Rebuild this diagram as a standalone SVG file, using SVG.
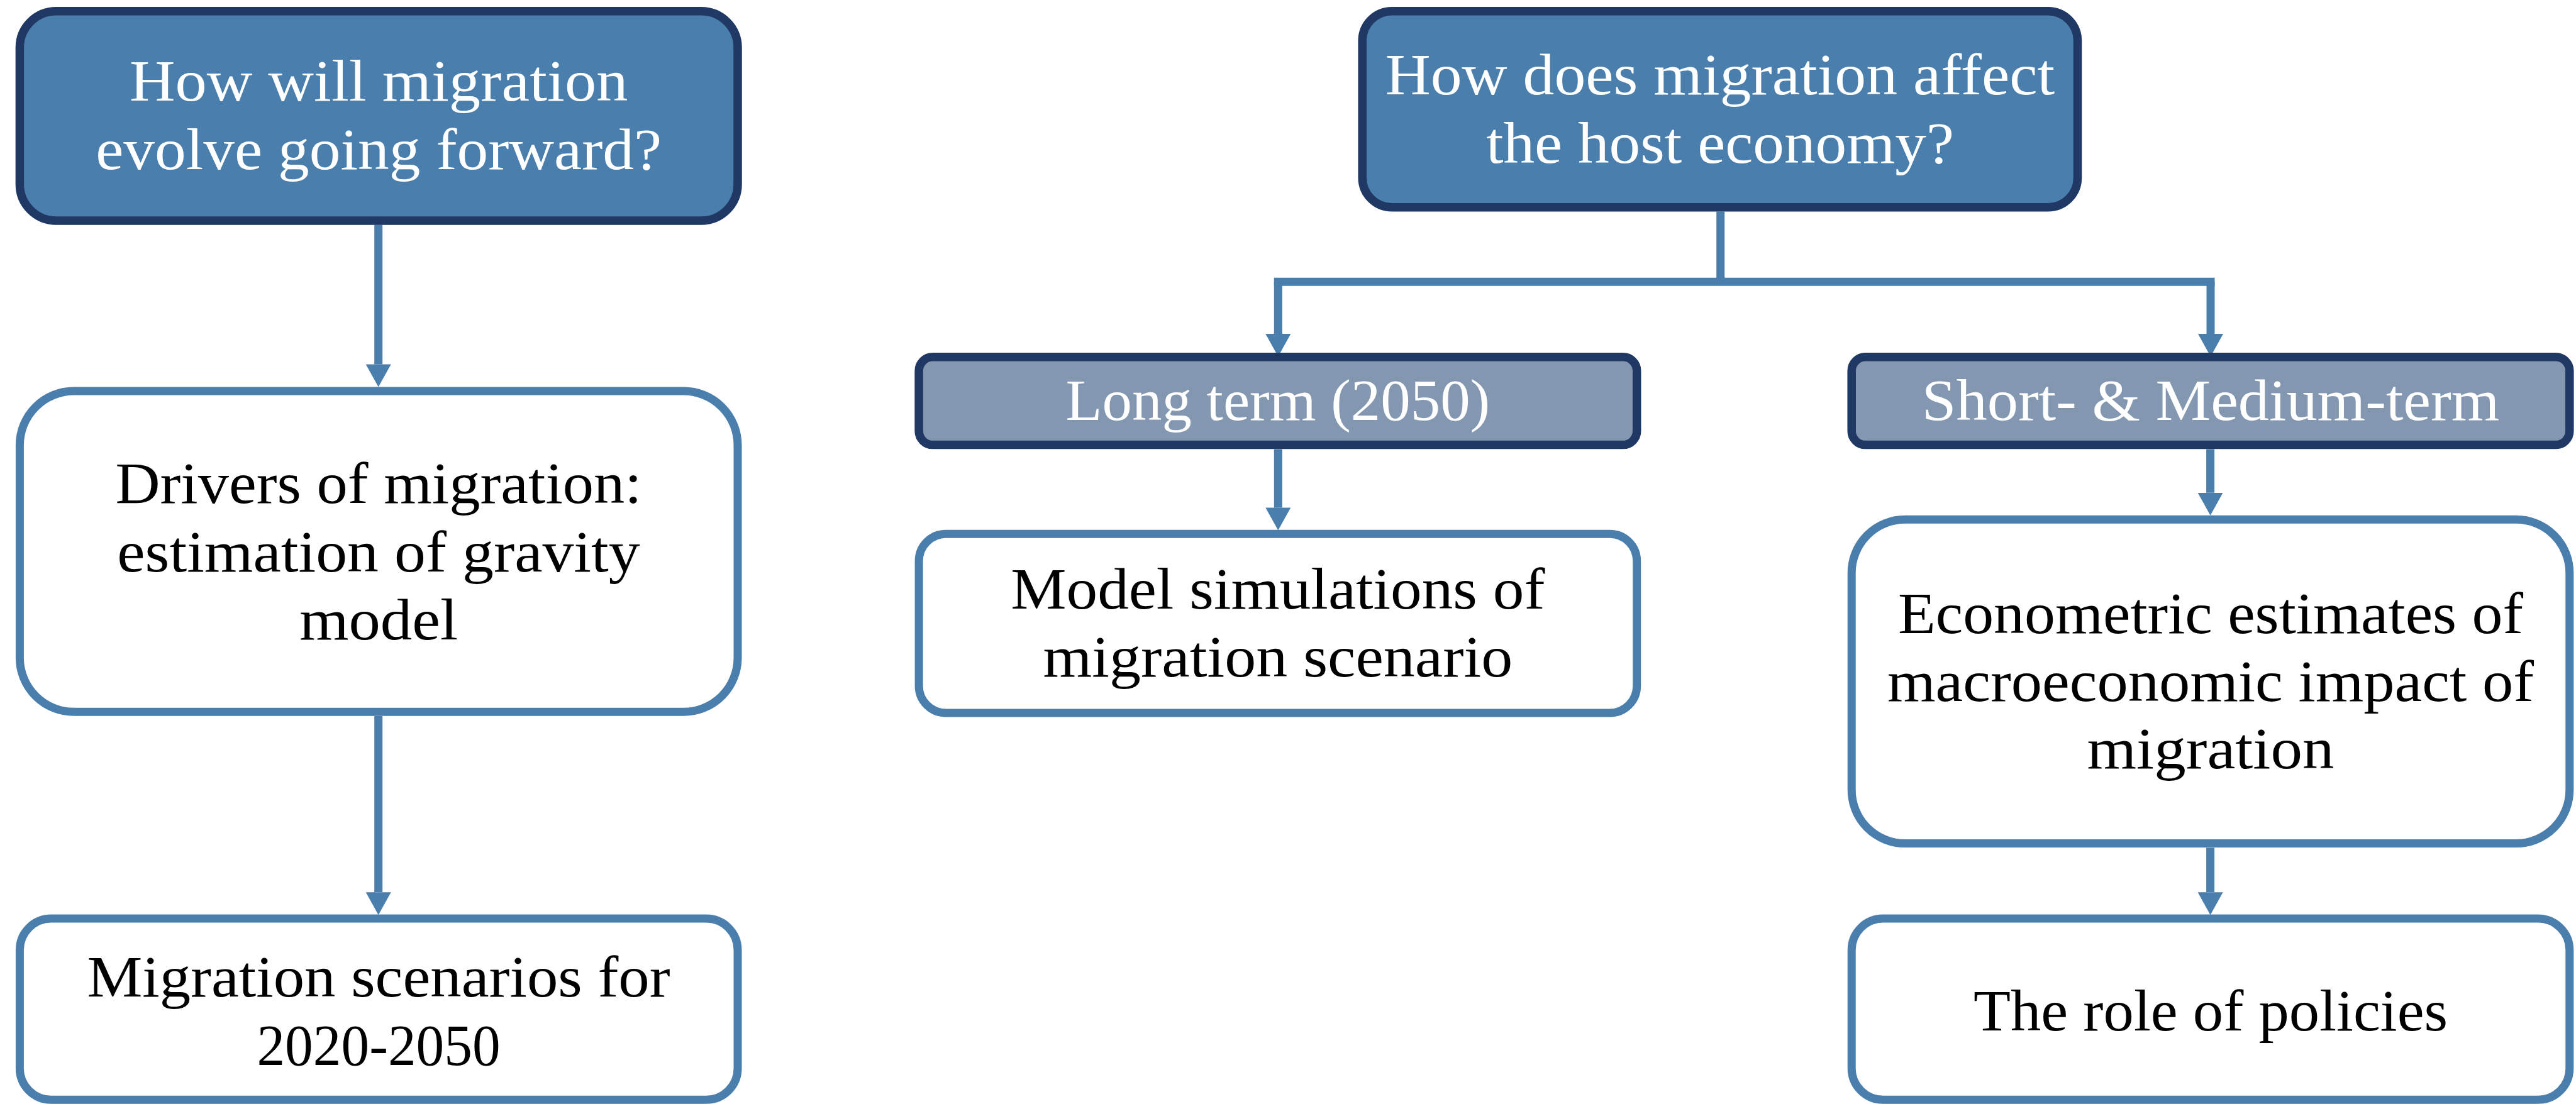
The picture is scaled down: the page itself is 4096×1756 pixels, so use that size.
<svg xmlns="http://www.w3.org/2000/svg" width="4096" height="1756" viewBox="0 0 4096 1756">
<style>
.q{fill:#4A7EAC;stroke:#203864;stroke-width:13.5}
.t{fill:#8497B0;stroke:#203864;stroke-width:13.5}
.w{fill:#FFFFFF;stroke:#4A7EAC;stroke-width:13}
.lbl{font-family:"Liberation Serif","Times New Roman",serif;font-size:93px}
.wt{fill:#FFFFFF}
.bt{fill:#000000}
.c{fill:none;stroke:#4A7EAC;stroke-width:13}
</style>
<defs>
<marker id="ah" markerUnits="userSpaceOnUse" markerWidth="36" markerHeight="40" viewBox="0 0 36 40" refX="0" refY="20" orient="auto">
<path d="M0,0 L36,20 L0,40 Z" fill="#4A7EAC"/>
</marker>
</defs>
<rect width="4096" height="1756" fill="#FFFFFF"/>
<g id="connectors">
<path class="c" d="M601.7,357.6 V579.4" marker-end="url(#ah)"/>
<path class="c" d="M601.7,1139 V1419.3" marker-end="url(#ah)"/>
<path class="c" d="M2735.7,336.5 V448.3"/>
<path class="c" d="M2032.3,448.3 H3515" stroke-linecap="square"/>
<path class="c" d="M2032.3,448.3 V531.1" marker-end="url(#ah)"/>
<path class="c" d="M3515,448.3 V531.1" marker-end="url(#ah)"/>
<path class="c" d="M2032.3,714.4 V807.4" marker-end="url(#ah)"/>
<path class="c" d="M3514.6,714.4 V783.7" marker-end="url(#ah)"/>
<path class="c" d="M3514.6,1348.4 V1419.3" marker-end="url(#ah)"/>
</g>
<g id="node-evolve">
<rect class="q" x="31.4" y="17.8" width="1141.6" height="333.1" rx="58" ry="58"/>
<text class="lbl wt" x="206" y="160.2" textLength="792.4" lengthAdjust="spacingAndGlyphs">How will migration</text>
<text class="lbl wt" x="152.2" y="269.1" textLength="900" lengthAdjust="spacingAndGlyphs">evolve going forward?</text>
</g>
<g id="node-drivers">
<rect class="w" x="31.4" y="622.1" width="1141.6" height="510.2" rx="86" ry="86"/>
<text class="lbl bt" x="183.4" y="800" textLength="837.3" lengthAdjust="spacingAndGlyphs">Drivers of migration:</text>
<text class="lbl bt" x="186.3" y="908.5" textLength="831.4" lengthAdjust="spacingAndGlyphs">estimation of gravity</text>
<text class="lbl bt" x="476.2" y="1017" textLength="251.7" lengthAdjust="spacingAndGlyphs">model</text>
</g>
<g id="node-scenarios">
<rect class="w" x="31.4" y="1461.1" width="1141.6" height="288.2" rx="50" ry="50"/>
<text class="lbl bt" x="138.4" y="1584.8" textLength="927.2" lengthAdjust="spacingAndGlyphs">Migration scenarios for</text>
<text class="lbl bt" x="408.4" y="1694.2" textLength="387.3" lengthAdjust="spacingAndGlyphs">2020-2050</text>
</g>
<g id="node-host">
<rect class="q" x="2166.2" y="17.8" width="1137.3" height="311.9" rx="47" ry="47"/>
<text class="lbl wt" x="2202.7" y="150" textLength="1064.5" lengthAdjust="spacingAndGlyphs">How does migration affect</text>
<text class="lbl wt" x="2362.9" y="258.5" textLength="744.1" lengthAdjust="spacingAndGlyphs">the host economy?</text>
</g>
<g id="node-long">
<rect class="t" x="1461.1" y="567.8" width="1141.6" height="139.8" rx="22" ry="22"/>
<text class="lbl wt" x="1694.6" y="667.8" textLength="674.6" lengthAdjust="spacingAndGlyphs">Long term (2050)</text>
</g>
<g id="node-model">
<rect class="w" x="1461.1" y="849.2" width="1141.6" height="284.8" rx="43" ry="43"/>
<text class="lbl bt" x="1607.3" y="967.8" textLength="849.2" lengthAdjust="spacingAndGlyphs">Model simulations of</text>
<text class="lbl bt" x="1658.6" y="1075.5" textLength="746.6" lengthAdjust="spacingAndGlyphs">migration scenario</text>
</g>
<g id="node-short">
<rect class="t" x="2944.2" y="567.8" width="1141.6" height="139.8" rx="22" ry="22"/>
<text class="lbl wt" x="3055.7" y="667.8" textLength="918.7" lengthAdjust="spacingAndGlyphs">Short- &amp; Medium-term</text>
</g>
<g id="node-econometric">
<rect class="w" x="2944.2" y="826.3" width="1141.6" height="515.3" rx="85" ry="85"/>
<text class="lbl bt" x="3018" y="1006.8" textLength="994.1" lengthAdjust="spacingAndGlyphs">Econometric estimates of</text>
<text class="lbl bt" x="3001" y="1114.5" textLength="1028" lengthAdjust="spacingAndGlyphs">macroeconomic impact of</text>
<text class="lbl bt" x="3318.4" y="1222.1" textLength="393.2" lengthAdjust="spacingAndGlyphs">migration</text>
</g>
<g id="node-policies">
<rect class="w" x="2944.2" y="1461.1" width="1141.6" height="288.2" rx="50" ry="50"/>
<text class="lbl bt" x="3137.9" y="1639.1" textLength="754.3" lengthAdjust="spacingAndGlyphs">The role of policies</text>
</g>
</svg>
